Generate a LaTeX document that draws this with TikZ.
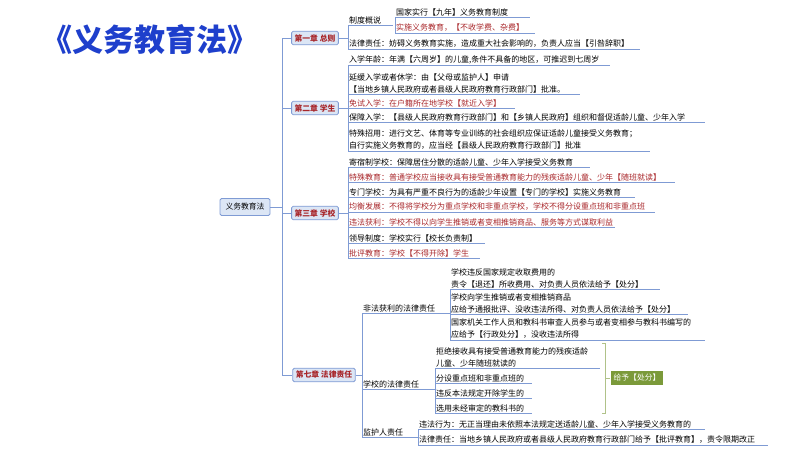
\documentclass[tikz,border=0pt]{standalone}
\usepackage{fontspec}
\setmainfont{Noto Sans CJK SC}
\definecolor{ln}{HTML}{7F9BD4}
\definecolor{rd}{HTML}{A8262A}
\definecolor{bxf}{HTML}{DCE6F5}
\definecolor{tb}{HTML}{1E3FCC}
\definecolor{gr}{HTML}{7B9A3A}
\tikzset{
 ln/.style={draw=ln,line width=0.9pt},
 item/.style={anchor=south west,inner sep=1pt,font=\fontsize{8}{12}\selectfont,align=left},
 red/.style={text=rd},
 chap/.style={draw=ln,fill=bxf,rounded corners=1.5pt,text=rd,font=\fontsize{7.8}{9}\selectfont\bfseries,inner sep=3pt,line width=0.8pt},
}
% name, x, y(underline), xend, style, text
\newcommand\itm[6]{\node[item,#5] (#1) at (#2,#3) {#6};\draw[ln] (#1.south west) -- (#4,#3);}
\begin{document}
\begin{tikzpicture}[x=1pt,y=-1pt]
\useasboundingbox (0,0) rectangle (800,450);
\node[text=tb,font=\fontsize{31}{34}\selectfont\bfseries] (title) at (150,40) {《义务教育法》};
\node[draw=ln,fill=bxf,rounded corners=1.5pt,font=\fontsize{7.8}{9}\selectfont,minimum width=50pt,minimum height=17pt,line width=0.8pt] (root) at (245,207) {义务教育法};
% trunk
\draw[ln] (root.east) -- (282,207);
\draw[ln] (282,38) -- (282,375);
\node[chap] (c1) at (315,38) {第一章 总则};
\node[chap] (c2) at (315,108) {第二章 学生};
\node[chap] (c3) at (315,213) {第三章 学校};
\node[chap] (c7) at (324,375) {第七章 法律责任};
\foreach \c in {c1,c2,c3,c7} \draw[ln] (282,0|-\c.west) -- (\c.west);
% chapter 1
\draw[ln] (c1.east) -- (348,38);
\draw[ln] (348,25) -- (348,49);
\itm{z}{348}{25}{393}{}{制度概说}
\draw[ln] (395,17) -- (395,33);
\itm{z1}{395}{17}{530}{}{国家实行【九年】义务教育制度}
\itm{z2}{395}{33}{535}{red}{实施义务教育，【不收学费、杂费】}
\itm{f1}{348}{49}{640}{}{法律责任：妨碍义务教育实施，造成重大社会影响的，负责人应当【引咎辞职】}
% chapter 2
\draw[ln] (c2.east) -- (348,108);
\draw[ln] (348,65) -- (348,151);
\itm{s1}{348}{65}{610}{}{入学年龄：年满【六周岁】的儿童,条件不具备的地区，可推迟到七周岁}
\itm{s2}{348}{94}{580}{}{延缓入学或者休学：由【父母或监护人】申请\\【当地乡镇人民政府或者县级人民政府教育行政部门】批准。}
\itm{s3}{348}{108}{515}{red}{免试入学：在户籍所在地学校【就近入学】}
\itm{s4}{348}{122}{705}{}{保障入学：【县级人民政府教育行政部门】和【乡镇人民政府】组织和督促适龄儿童、少年入学}
\itm{s5}{348}{151}{650}{}{特殊招用：进行文艺、体育等专业训练的社会组织应保证适龄儿童接受义务教育；\\自行实施义务教育的，应当经【县级人民政府教育行政部门】批准}
% chapter 3
\draw[ln] (c3.east) -- (348,213);
\draw[ln] (348,167) -- (348,258);
\itm{x1}{348}{167}{590}{}{寄宿制学校：保障居住分散的适龄儿童、少年入学接受义务教育}
\itm{x2}{348}{182}{675}{red}{特殊教育：普通学校应当接收具有接受普通教育能力的残疾适龄儿童、少年【随班就读】}
\itm{x3}{348}{197}{635}{}{专门学校：为具有严重不良行为的适龄少年设置【专门的学校】实施义务教育}
\itm{x4}{348}{212}{655}{red}{均衡发展：不得将学校分为重点学校和非重点学校，学校不得分设重点班和非重点班}
\itm{x5}{348}{227}{615}{red}{违法获利：学校不得以向学生推销或者变相推销商品、服务等方式谋取利益}
\itm{x6}{348}{243}{485}{}{领导制度：学校实行【校长负责制】}
\itm{x7}{348}{258}{480}{red}{批评教育：学校【不得开除】学生}
% chapter 7
\draw[ln] (c7.east) -- (362,375);
\draw[ln] (362,313) -- (362,437);
\itm{l1}{362}{313}{448}{}{非法获利的法律责任}
\draw[ln] (450,289) -- (450,340);
\draw[ln] (448,313) -- (450,313);
\itm{l11}{450}{289}{660}{}{学校违反国家规定收取费用的\\责令【退还】所收费用、对负责人员依法给予【处分】}
\itm{l12}{450}{314}{688}{}{学校向学生推销或者变相推销商品\\应给予通报批评、没收违法所得、对负责人员依法给予【处分】}
\itm{l13}{450}{340}{705}{}{国家机关工作人员和教科书审查人员参与或者变相参与教科书编写的\\应给予【行政处分】，没收违法所得}
\itm{l2}{362}{389}{432}{}{学校的法律责任}
\draw[ln] (435,368) -- (435,413);
\draw[ln] (432,389) -- (435,389);
\itm{l21}{435}{368}{600}{}{拒绝接收具有接受普通教育能力的残疾适龄\\儿童、少年随班就读的}
\itm{l22}{435}{383}{532}{}{分设重点班和非重点班的}
\itm{l23}{435}{398}{532}{}{违反本法规定开除学生的}
\itm{l24}{435}{413}{532}{}{选用未经审定的教科书的}
\draw[draw=gr!60,line width=0.8pt] (602,343) -- (605,343) -- (605,413) -- (602,413);
\node[fill=gr,text=white,font=\fontsize{7.8}{9}\selectfont,inner sep=3pt] (gy) at (637,378) {给予【处分】};
\draw[draw=gr!60,line width=0.8pt] (605,378) -- (gy.west);
\itm{l3}{362}{437}{415}{}{监护人责任}
\draw[ln] (418,429) -- (418,445);
\draw[ln] (415,437) -- (418,437);
\itm{l31}{418}{429}{705}{}{违法行为：无正当理由未依照本法规定送适龄儿童、少年入学接受义务教育的}
\itm{l32}{418}{445}{768}{}{法律责任：当地乡镇人民政府或者县级人民政府教育行政部门给予【批评教育】，责令限期改正}
\end{tikzpicture}
\end{document}
